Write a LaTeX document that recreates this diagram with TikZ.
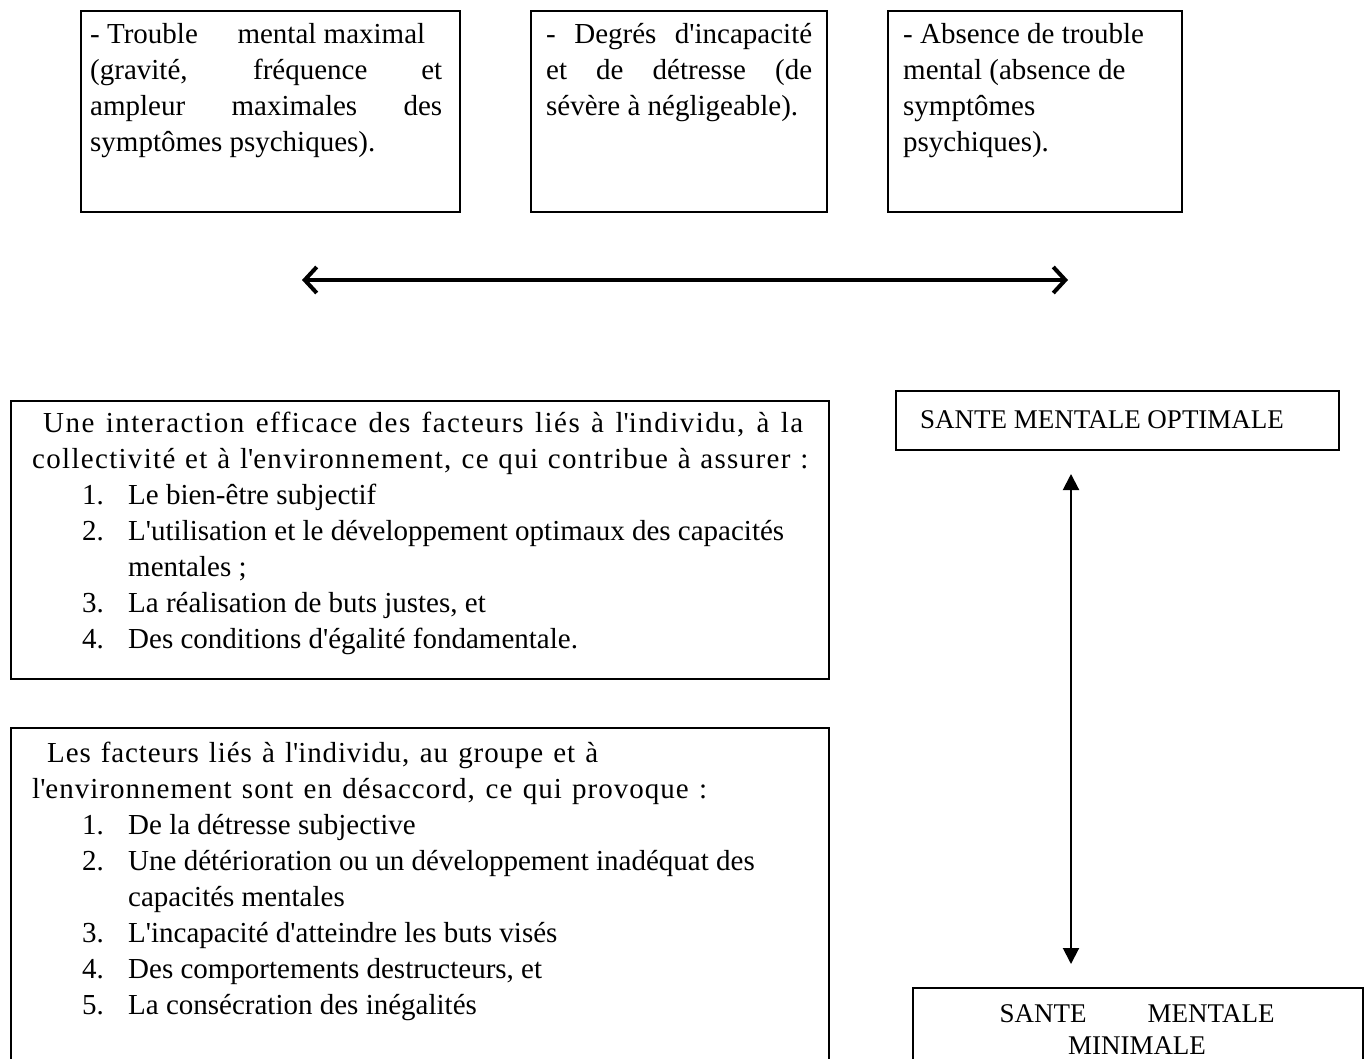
\documentclass[tikz,border=0pt]{standalone}
\usepackage{fontspec}
\setmainfont{Liberation Serif}
\usetikzlibrary{arrows.meta}

% text sizes (1pt = one unit of the drawing grid)
\newcommand\bodyfont{\fontsize{29}{36}\selectfont}
\newcommand\capsfont{\fontsize{27}{32}\selectfont}
% straight apostrophe
\newcommand\ap{\textquotesingle}
% a line spread out to a given width
\newcommand\jline[2]{\makebox[#1][s]{#2}}
% a letter-spaced line spread out to a given width
\newcommand\wline[3]{\makebox[#1][s]{\addfontfeature{LetterSpace=#2}#3}}
% numbered list entry and its continuation line
\newcommand\itm[2]{\hspace*{50pt}\makebox[46pt][l]{#1}#2}
\newcommand\cont[1]{\hspace*{96pt}#1}

\tikzset{
  frame/.style={draw, line width=1.8pt, inner sep=0pt, anchor=north west},
  txt/.style={anchor=north west, inner sep=0pt, align=left, font=\bodyfont},
  capstxt/.style={inner sep=0pt, font=\capsfont},
  scale arrow/.style={line width=4pt, line cap=round,
    {Straight Barb[length=12pt,width=26pt]}-{Straight Barb[length=12pt,width=26pt]}},
  level arrow/.style={line width=2pt,
    {Triangle[length=16pt,width=16pt]}-{Triangle[length=16pt,width=16pt]}}
}

\begin{document}
\begin{tikzpicture}[x=1pt,y=-1pt]
  \useasboundingbox (0,0) rectangle (1368,1059);
  \fill[white] (0,0) rectangle (1368,1059);
  \clip (0,0) rectangle (1368,1059);

  % three boxes along the continuum
  \node[frame, minimum width=379pt, minimum height=201pt] (boxA) at (80,10) {};
  \node[frame, minimum width=296pt, minimum height=201pt] (boxB) at (530,10) {};
  \node[frame, minimum width=294pt, minimum height=201pt] (boxC) at (887,10) {};

  \node[txt] (textA) at (90,17.8) {%
    \strut\makebox[335pt][l]{- Trouble\hfill mental maximal}\\
    \strut\jline{352pt}{(gravité, fréquence et}\\
    \strut\jline{352pt}{ampleur maximales des}\\
    \strut symptômes psychiques).};
  \node[txt] (textB) at (546,17.8) {%
    \strut\jline{266pt}{- Degrés d\ap incapacité}\\
    \strut\jline{266pt}{et de détresse (de}\\
    \strut sévère à négligeable).};
  \node[txt] (textC) at (903,17.8) {%
    \strut - Absence de trouble\\
    \strut mental (absence de\\
    \strut symptômes\\
    \strut psychiques).};

  % the continuum
  \coordinate (scaleL) at (302,280);
  \coordinate (scaleR) at (1068,280);
  \draw[scale arrow] (scaleL) -- (scaleR);

  % optimal mental health
  \node[frame, minimum width=818pt, minimum height=278pt] (boxD) at (10,400) {};
  \node[txt] (textD) at (32,406.8) {%
    \strut\hspace*{11pt}\wline{760pt}{5}{Une interaction efficace des facteurs liés à l\ap individu, à la}\\
    \strut\wline{776pt}{4.5}{collectivité et à l\ap environnement, ce qui contribue à assurer :}\\
    \strut\itm{1.}{Le bien-être subjectif}\\
    \strut\itm{2.}{L\ap utilisation et le développement optimaux des capacités}\\
    \strut\cont{mentales ;}\\
    \strut\itm{3.}{La réalisation de buts justes, et}\\
    \strut\itm{4.}{Des conditions d\ap égalité fondamentale.}};

  \node[frame, minimum width=443pt, minimum height=59pt] (boxE) at (895,390) {};
  \node[capstxt, anchor=base west] (textE) at (920,428) {SANTE MENTALE OPTIMALE};

  % minimal mental health
  \node[frame, minimum width=818pt, minimum height=360pt] (boxF) at (10,727) {};
  \node[txt] (textF) at (32,736.8) {%
    \strut\hspace*{15pt}\wline{551pt}{3}{Les facteurs liés à l\ap individu, au groupe et à}\\
    \strut\wline{675pt}{3.5}{l\ap environnement sont en désaccord, ce qui provoque :}\\
    \strut\itm{1.}{De la détresse subjective}\\
    \strut\itm{2.}{Une détérioration ou un développement inadéquat des}\\
    \strut\cont{capacités mentales}\\
    \strut\itm{3.}{L\ap incapacité d\ap atteindre les buts visés}\\
    \strut\itm{4.}{Des comportements destructeurs, et}\\
    \strut\itm{5.}{La consécration des inégalités}};

  \node[frame, minimum width=450pt, minimum height=100pt] (boxG) at (912,987) {};
  \node[capstxt, anchor=north, align=center] (textG) at (1137,999.6) {%
    \strut\jline{275pt}{SANTE MENTALE}\\
    \strut MINIMALE};

  % link between the two levels
  \coordinate (levelTop) at (1071,474);
  \coordinate (levelBot) at (1071,964);
  \draw[level arrow] (levelTop) -- (levelBot);
\end{tikzpicture}
\end{document}
